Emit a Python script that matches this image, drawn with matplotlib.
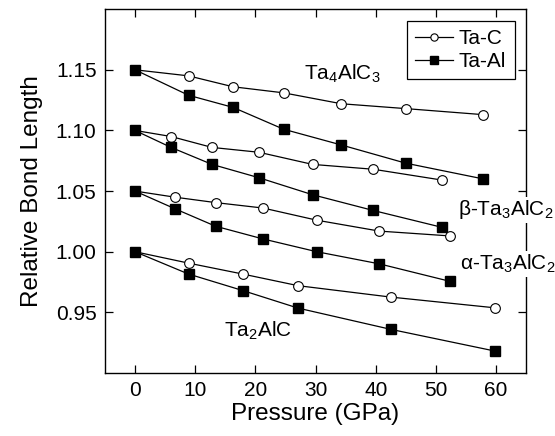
import matplotlib
matplotlib.use("Agg")
import matplotlib.pyplot as plt

plt.rcParams['font.family'] = ['Liberation Sans', 'DejaVu Sans']
plt.rcParams['mathtext.fontset'] = 'stix'
plt.rcParams['mathtext.default'] = 'regular'

# pressure points (GPa) and relative bond lengths for each phase
p_413 = [0, 8.9, 16.3, 24.7, 34.3, 45.0, 57.9]
tac_413 = [1.150, 1.145, 1.136, 1.131, 1.122, 1.118, 1.113]
taal_413 = [1.150, 1.129, 1.119, 1.101, 1.088, 1.073, 1.060]

p_beta = [0, 6.0, 12.8, 20.6, 29.5, 39.6, 51.1]
tac_beta = [1.100, 1.095, 1.086, 1.082, 1.072, 1.068, 1.059]
taal_beta = [1.100, 1.086, 1.072, 1.061, 1.047, 1.034, 1.020]

p_alpha = [0, 6.6, 13.4, 21.3, 30.2, 40.6, 52.4]
tac_alpha = [1.050, 1.045, 1.0405, 1.036, 1.026, 1.017, 1.013]
taal_alpha = [1.050, 1.0355, 1.021, 1.0105, 1.000, 0.990, 0.9755]

p_211 = [0, 8.9, 17.9, 27.1, 42.5, 59.9]
tac_211 = [1.000, 0.9906, 0.9816, 0.972, 0.9626, 0.9537]
taal_211 = [1.000, 0.9816, 0.968, 0.9535, 0.936, 0.918]

phases = [
    (p_413, tac_413, taal_413),
    (p_beta, tac_beta, taal_beta),
    (p_alpha, tac_alpha, taal_alpha),
    (p_211, tac_211, taal_211),
]

fig = plt.figure(figsize=(5.55, 4.36), dpi=100)
ax = fig.add_axes([0.189, 0.1445, 0.759, 0.8345])

for i, (p, c, a) in enumerate(phases):
    ax.plot(p, c, '-o', color='black', lw=0.9, ms=7, mfc='white', mec='black',
            mew=0.8, label='Ta-C' if i == 0 else None)
    ax.plot(p, a, '-s', color='black', lw=0.9, ms=7.5, mfc='black', mec='black',
            label='Ta-Al' if i == 0 else None)

ax.set_xlim(-5, 65)
ax.set_ylim(0.90, 1.20)
ax.set_xticks([0, 10, 20, 30, 40, 50, 60])
ax.set_yticks([0.95, 1.00, 1.05, 1.10, 1.15])
ax.set_yticklabels(['0.95', '1.00', '1.05', '1.10', '1.15'])
ax.tick_params(direction='in', length=6, width=0.9, top=True, right=True,
               labelsize=15, pad=6)
for s in ax.spines.values():
    s.set_linewidth(1.0)

ax.set_xlabel('Pressure (GPa)', fontsize=17.5, labelpad=2)
ax.set_ylabel('Relative Bond Length', fontsize=17.5, labelpad=9)

txt = dict(fontsize=15, va='baseline', ha='left')
ax.text(28.1, 1.142, 'Ta$_4$AlC$_3$', **txt)
ax.text(53.7, 1.030, r'$\beta$-Ta$_3$AlC$_2$', clip_on=False, zorder=5,
        bbox=dict(fc='white', ec='none', pad=1), **txt)
ax.text(54.0, 0.985, r'$\alpha$-Ta$_3$AlC$_2$', clip_on=False, zorder=5,
        bbox=dict(fc='white', ec='none', pad=1), **txt)
ax.text(14.8, 0.930, 'Ta$_2$AlC', **txt)

leg = ax.legend(loc='upper right', fontsize=15, frameon=True, fancybox=False,
                edgecolor='black', framealpha=1, handlelength=1.8,
                borderaxespad=0.55, handletextpad=0.3, labelspacing=0.2,
                borderpad=0.4, markerscale=0.75)
leg.get_frame().set_linewidth(0.9)

fig.savefig('out.png', dpi=100)
